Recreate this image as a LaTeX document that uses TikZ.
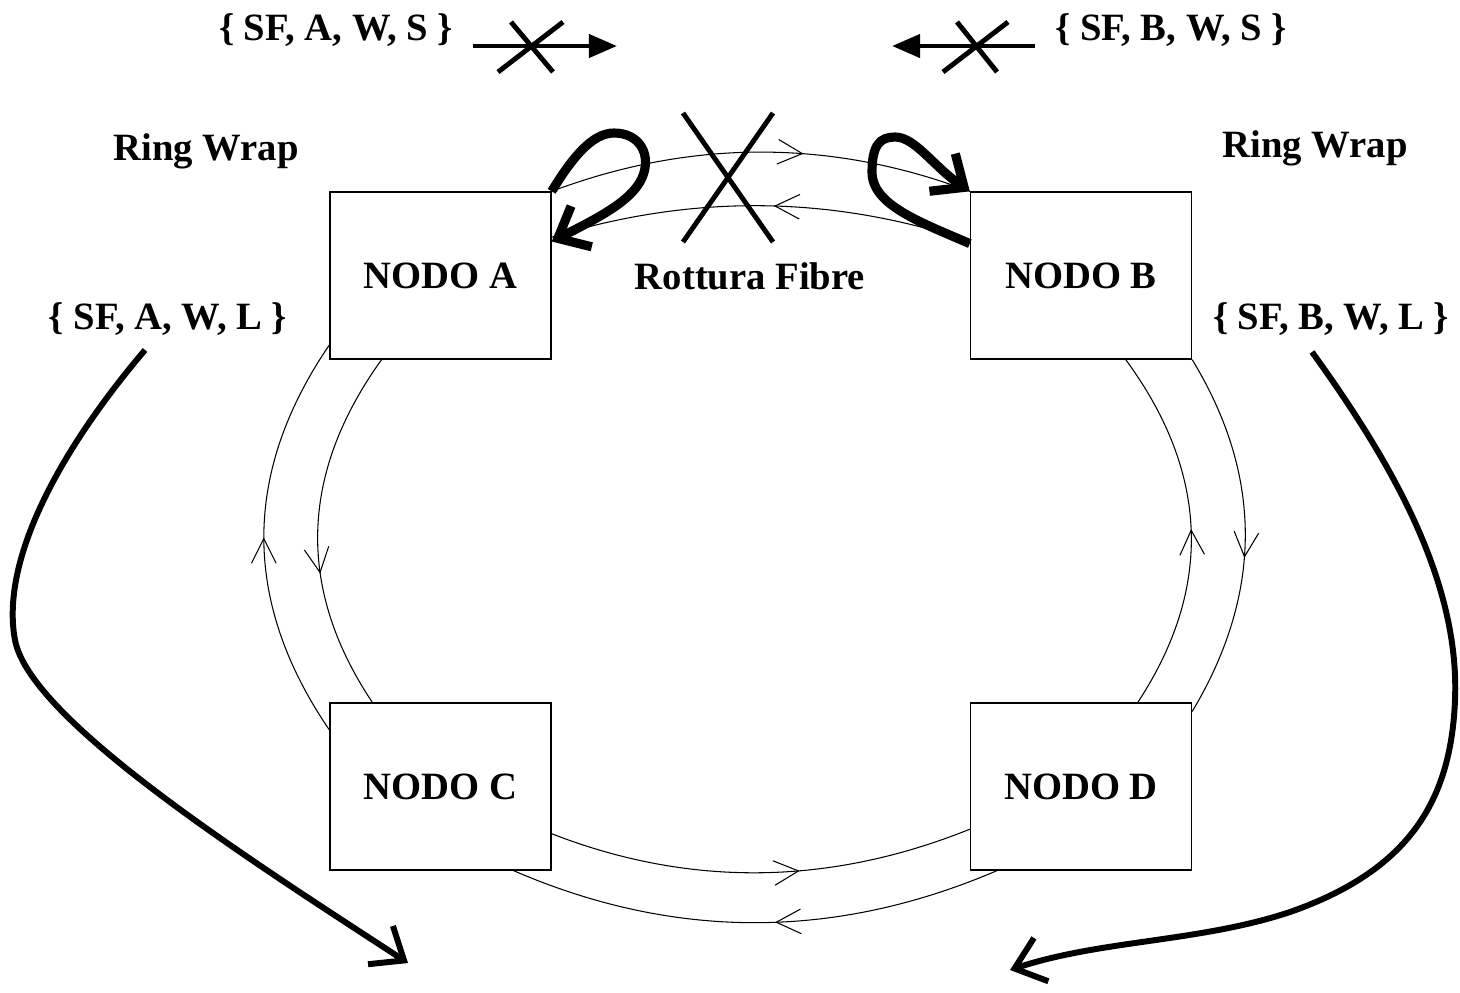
\documentclass[tikz,border=0pt]{standalone}
\usepackage{fontspec}
\setmainfont{Liberation Serif}
\usetikzlibrary{arrows.meta,decorations.markings}
\begin{document}
\begin{tikzpicture}[x=0.02cm,y=-0.02cm,
  box/.style={draw, line width=0.8pt, minimum width=4.42cm, minimum height=3.34cm, inner sep=0pt, font=\bfseries\fontsize{22}{26}\selectfont},
  lbl/.style={inner sep=0pt, anchor=base, font=\bfseries\fontsize{22}{26}\selectfont},
  ring/.style={line width=0.6pt, postaction={decorate}, decoration={markings, mark=at position #1 with {\arrow{Straight Barb[length=14pt,width=14pt]}}}},
  wrap/.style={line width=5.2pt, -{Straight Barb[length=15pt,width=26pt]}},
  bigarrow/.style={line width=3.4pt, -{Straight Barb[length=16pt,width=26pt]}},
  cutarrow/.style={line width=2.8pt, -{Triangle[length=16pt,width=13pt]}},
  cross/.style={line width=2.8pt},
]
\fill[white] (0,0) rectangle (1460,992);
\useasboundingbox (0,0) rectangle (1460,992);

% nodes
\node[box] (A) at (440.5,275.5) {NODO A};
\node[box] (B) at (1081,275.5) {NODO B};
\node[box] (C) at (440.5,786.5) {NODO C};
\node[box] (D) at (1081,786.5) {NODO D};

% labels
\node[lbl] (sfAWS) at (336,40) {\{ SF, A, W, S \}};
\node[lbl] (sfBWS) at (1171,40) {\{ SF, B, W, S \}};
\node[lbl] (rwA) at (206,160) {Ring Wrap};
\node[lbl] (rwB) at (1315,157) {Ring Wrap};
\node[lbl] (sfAWL) at (168,329) {\{ SF, A, W, L \}};
\node[lbl] (sfBWL) at (1331,329) {\{ SF, B, W, L \}};
\node[lbl] (rott) at (750,289) {Rottura Fibre};

% ring fibres
\draw[ring=0.6] (A.north east) .. controls (691,139) and (831,139) .. (B.north west);
\draw[ring=0.47] (B.163) .. controls (831,195) and (691,194) .. (A.19);
\draw[ring=0.5] (C.153) .. controls (242,602) and (242,473) .. (A.212);
\draw[ring=0.62] (A.235) .. controls (300,473) and (296,588) .. (C.129);
\draw[ring=0.5] (D.56) .. controls (1213,588) and (1209,473) .. (B.-62);
\draw[ring=0.56] (B.south east) .. controls (1263,476) and (1263,593) .. (D.34);
\draw[ring=0.59] (C.-23) .. controls (691,888) and (831,885) .. (D.201);
\draw[ring=0.46] (D.225) .. controls (835,940) and (674,940) .. (C.-49);

% ring wraps
\draw[wrap] (A.north east) .. controls (572,158) and (592,133) .. (614,133) .. controls (640,133) and (652,155) .. (642,178) .. controls (632,200) and (602,216) .. (A.17);
\draw[wrap] (B.164) .. controls (920,222) and (872,205) .. (872,172) .. controls (872,145) and (880,137) .. (895,137) .. controls (915,137) and (933,166) .. (B.north west);

% fibre break
\draw[cross] (683,113) -- (773,242) (773,113) -- (683,242);

% crossed signalling arrows
\coordinate (l1) at (473,46);
\coordinate (l2) at (617,46);
\draw[cutarrow] (l1) -- (l2);
\draw[cross] (511,22) -- (553,72) (563,22) -- (498,72);
\coordinate (r1) at (1035,46);
\coordinate (r2) at (892,46);
\draw[cutarrow] (r1) -- (r2);
\draw[cross] (957,22) -- (997,72) (1008,22) -- (943,72);

% long signalling arrows
\coordinate (bl1) at (145,350);
\coordinate (bl2) at (408,963);
\draw[bigarrow] (bl1) .. controls (60,450) and (0,560) .. (15,640) .. controls (30,720) and (250,860) .. (bl2);
\coordinate (br1) at (1312,352);
\coordinate (br2) at (1010,970);
\draw[bigarrow] (br1) .. controls (1390,460) and (1460,580) .. (1455,700) .. controls (1451,800) and (1410,870) .. (1290,912) .. controls (1200,942) and (1100,940) .. (br2);
\end{tikzpicture}
\end{document}
